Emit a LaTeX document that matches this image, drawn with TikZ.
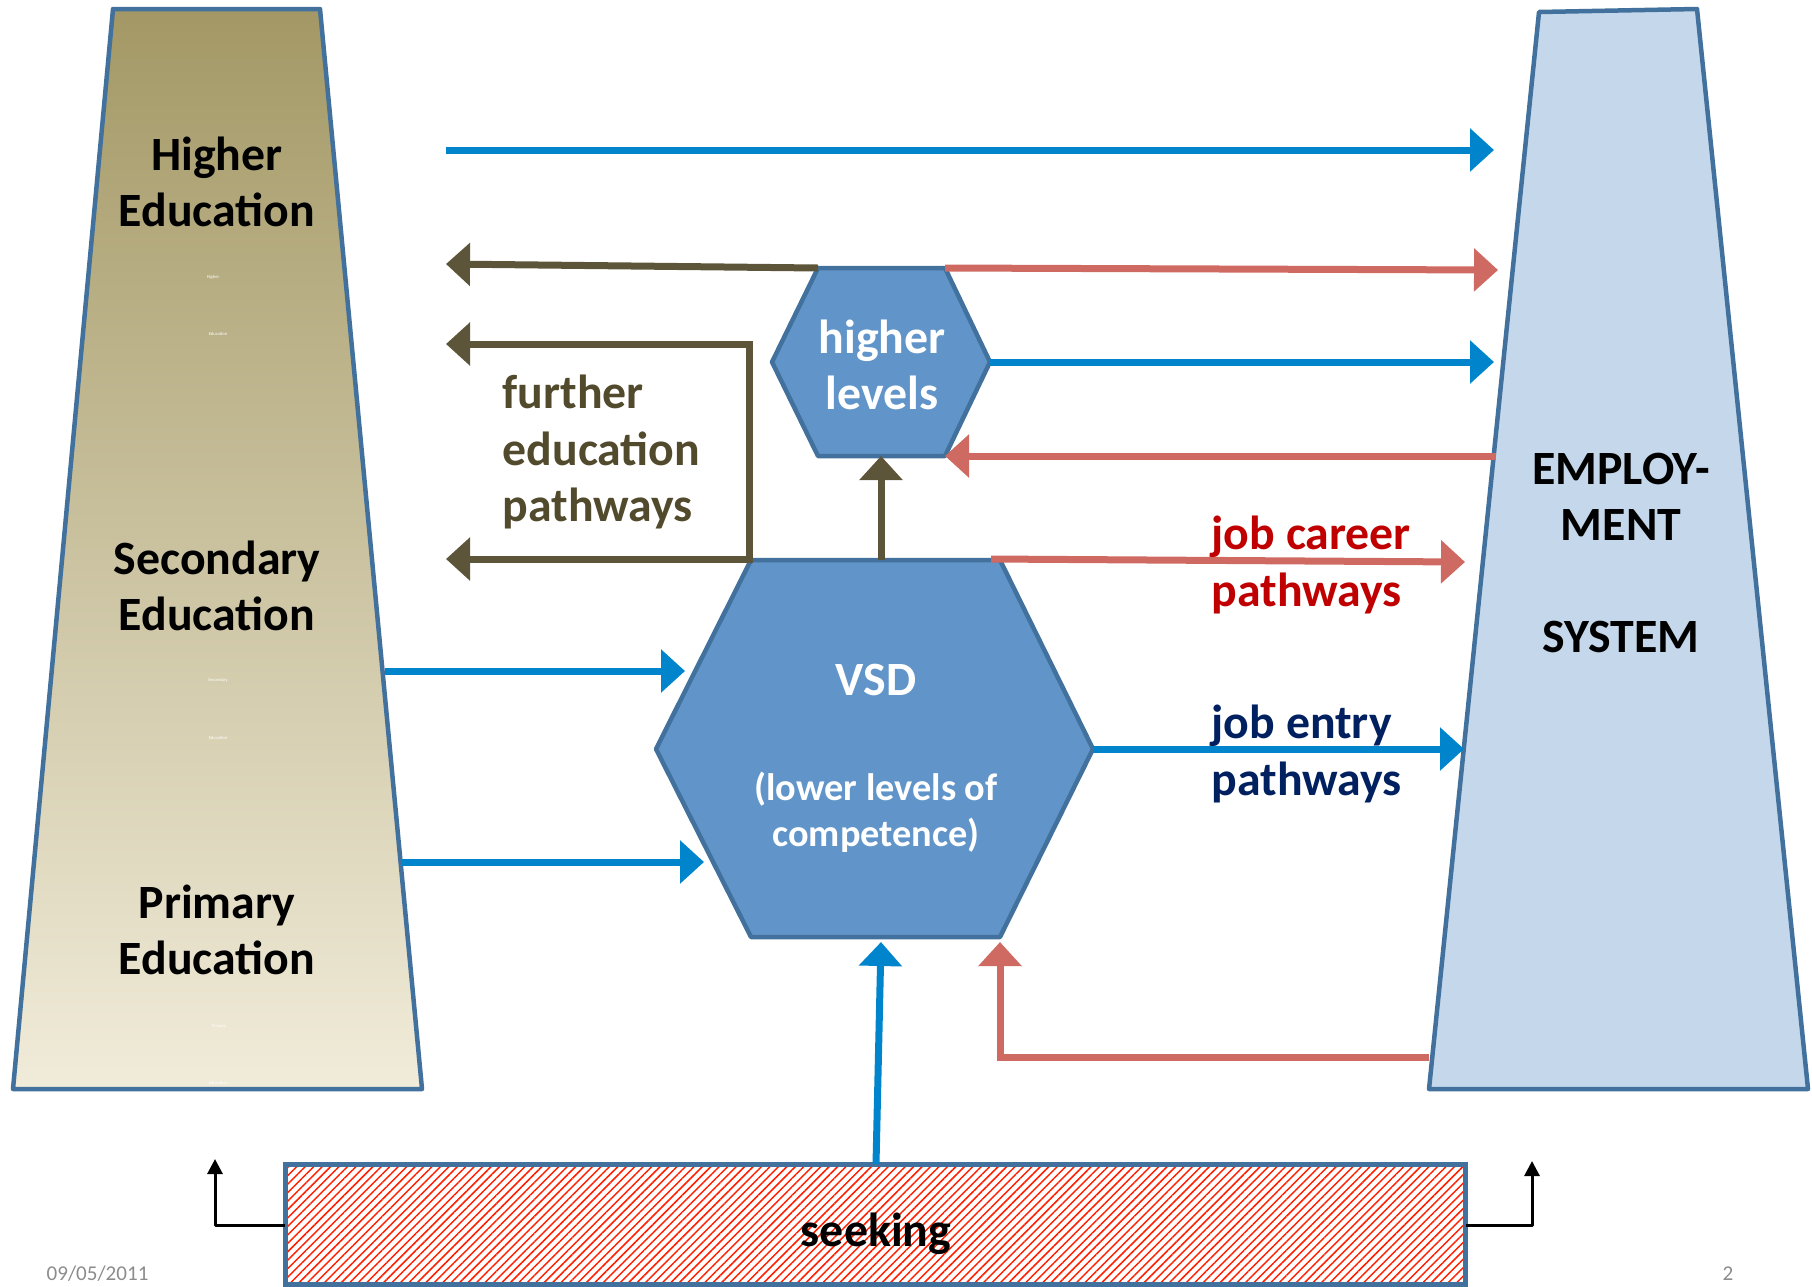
\documentclass[tikz,border=0pt]{standalone}
\usepackage{fontspec}
\setmainfont{Carlito}
\usetikzlibrary{arrows.meta,patterns.meta}
\definecolor{cblue}{RGB}{0,133,204}
\definecolor{colive}{RGB}{93,85,57}
\definecolor{cred}{RGB}{207,106,98}
\definecolor{hexfill}{RGB}{97,149,201}
\definecolor{cborder}{RGB}{65,113,156}
\definecolor{empfill}{RGB}{197,216,235}
\definecolor{edutop}{RGB}{163,152,101}
\definecolor{edubot}{RGB}{241,236,218}
\definecolor{txtolive}{RGB}{82,74,44}
\definecolor{txtred}{RGB}{192,0,0}
\definecolor{txtnavy}{RGB}{0,32,96}
\definecolor{cgray}{RGB}{140,140,140}
\definecolor{hatch}{RGB}{255,30,0}
\begin{document}
\begin{tikzpicture}[x=0.1mm,y=-0.1mm,
  lbl/.style={font=\fontsize{13.6}{16}\selectfont\bfseries, align=center, inner sep=0pt},
  lbll/.style={lbl, align=left, anchor=west},
  small/.style={font=\fontsize{10.9}{13.1}\selectfont\bfseries, align=center, inner sep=0pt, text=white},
  ghost/.style={font=\fontsize{1.3}{1.5}\selectfont, text=white, inner sep=0pt},
  shapeborder/.style={draw=cborder, line width=0.45mm, line join=round},
  fat/.style={line width=0.7mm, -{Triangle[length=2.4mm,width=4.2mm]}},
  fatboth/.style={line width=0.7mm, {Triangle[length=2.4mm,width=4.2mm]}-{Triangle[length=2.4mm,width=4.2mm]}},
  blk/.style={line width=0.3mm, line join=round, -{Triangle[length=1.5mm,width=1.5mm]}},
  foot/.style={font=\fontsize{6}{7}\selectfont, text=cgray, inner sep=0pt, anchor=base west}]
\useasboundingbox (0,0) rectangle (1812,1286);

% ---------- education trapezoid ----------
\coordinate (eduTL) at (113,9);
\coordinate (eduTR) at (320,9);
\coordinate (eduBR) at (422,1089);
\coordinate (eduBL) at (13,1089);
\path[shapeborder, top color=edutop, bottom color=edubot]
  (eduTL) -- (eduTR) -- (eduBR) -- (eduBL) -- cycle;
\node[lbl] (he) at (217,182) {Higher\\Education};
\node[lbl] (se) at (217,586) {Secondary\\Education};
\node[lbl] (pe) at (217,930) {Primary\\Education};
\node[ghost] (g1) at (213,277) {Higher};
\node[ghost] (g2) at (218,334) {Education};
\node[ghost] (g3) at (218,680) {Secondary};
\node[ghost] (g4) at (218,738) {Education};
\node[ghost] (g5) at (219,1026) {Primary};
\node[ghost] (g6) at (218,1083) {Education};

% ---------- employment trapezoid ----------
\coordinate (empTL) at (1539,12);
\coordinate (empTR) at (1697,9);
\coordinate (empBR) at (1808,1089);
\coordinate (empBL) at (1429,1089);
\path[shapeborder, fill=empfill]
  (empTL) -- (empTR) -- (empBR) -- (empBL) -- cycle;
\node[lbl] (emp) at (1621,553) {EMPLOY-\\MENT\\[16pt]SYSTEM};

% ---------- higher levels hexagon ----------
\coordinate (hlL) at (772,362);
\coordinate (hlTL) at (818,268);
\coordinate (hlTR) at (945,268);
\coordinate (hlR) at (990,362);
\coordinate (hlBR) at (945,456);
\coordinate (hlBL) at (818,456);
\coordinate (hlS) at (881,456);
\path[shapeborder, fill=hexfill] (hlL) -- (hlTL) -- (hlTR) -- (hlR) -- (hlBR) -- (hlBL) -- cycle;
\node[lbl, text=white] (hl) at (882,365) {higher\\levels};

% ---------- VSD hexagon ----------
\coordinate (vL) at (656,749);
\coordinate (vTL) at (751,560);
\coordinate (vTR) at (1000,560);
\coordinate (vR) at (1093,749);
\coordinate (vBR) at (1000,937);
\coordinate (vBL) at (751,937);
\coordinate (vN) at (881,560);
\path[shapeborder, fill=hexfill] (vL) -- (vTL) -- (vTR) -- (vR) -- (vBR) -- (vBL) -- cycle;
\node[lbl, text=white] (vsd) at (876,680) {VSD};
\node[small] (vsdsub) at (876,812) {(lower levels of\\competence)};

% ---------- seeking box ----------
\node[draw=cborder, line width=0.5mm, pattern={Lines[angle=45,distance=1.7pt,line width=0.42pt]}, pattern color=hatch,
      minimum width=118mm, minimum height=12mm, inner sep=0pt, anchor=north west] (seek) at (285,1164) {};
\node[lbl] (seektxt) at (876,1234) {seeking};

% ---------- free end points ----------
\coordinate (a1s) at (446,150);
\coordinate (a1e) at (1494,150);
\coordinate (a2e) at (446,264);
\coordinate (a3e) at (1498,270);
\coordinate (a4e) at (1494,362);
\coordinate (fbT) at (749,344);
\coordinate (fbB) at (749,559);
\coordinate (fbTe) at (446,344);
\coordinate (fbBe) at (446,559);
\coordinate (a7s) at (1496,456);
\coordinate (a8s) at (991,559);
\coordinate (a8e) at (1465,562);
\coordinate (a9s) at (385,671);
\coordinate (a9e) at (685,671);
\coordinate (a10s) at (402,862);
\coordinate (a10e) at (704,862);
\coordinate (a11e) at (1464,749);
\coordinate (a12s) at (876,1164);
\coordinate (a12e) at (881,942);
\coordinate (a13s) at (1429,1057);
\coordinate (a13c) at (1000,1057);
\coordinate (a13e) at (1000,942);
\coordinate (bLc) at (215,1225);
\coordinate (bLe) at (215,1159);
\coordinate (bRc) at (1532,1225);
\coordinate (bRe) at (1532,1161);

% ---------- arrows ----------
\draw[fat, cblue] (a1s) -- (a1e);
\draw[fat, colive] (hlTL) -- (a2e);
\draw[fat, cred] (hlTR) -- (a3e);
\draw[fat, cblue] (hlR) -- (a4e);
\draw[fatboth, colive, line join=miter] (fbTe) -- (fbT) -- (fbB) -- (fbBe);
\draw[fat, colive] (vN) -- (hlS);
\draw[fat, cred] (a7s) -- (hlBR);
\draw[fat, cred] (a8s) -- (a8e);
\draw[fat, cblue] (a9s) -- (a9e);
\draw[fat, cblue] (a10s) -- (a10e);
\draw[fat, cblue] (vR) -- (a11e);
\draw[fat, cblue] (a12s) -- (a12e);
\draw[fat, cred, line join=miter] (a13s) -- (a13c) -- (a13e);
\draw[blk] (seek.west |- bLc) -- (bLc) -- (bLe);
\draw[blk] (seek.east |- bRc) -- (bRc) -- (bRe);

% ---------- texts ----------
\node[lbll, text=txtolive] (fep) at (502,452) {further\\education\\pathways};
\node[lbll, text=txtred] (jcp) at (1211,565) {job career\\pathways};
\node[lbll, text=txtnavy] (jep) at (1211,754) {job entry\\pathways};

% ---------- footer ----------
\node[foot] (date) at (46,1280) {09/05/2011};
\node[foot] (pnum) at (1722,1280) {2};
\end{tikzpicture}
\end{document}
